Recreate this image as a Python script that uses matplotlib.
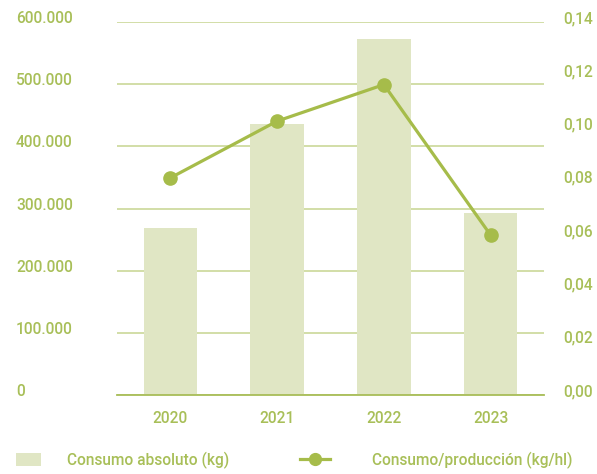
import matplotlib
matplotlib.use("Agg")
import matplotlib.pyplot as plt
import matplotlib.transforms as mtransforms
from matplotlib import font_manager as fm
from matplotlib.patches import Patch
from matplotlib.lines import Line2D

years = ["2020", "2021", "2022", "2023"]
consumo_abs = [268000, 436000, 572000, 293000]
consumo_rel = [0.0815, 0.1028, 0.1165, 0.0600]
left_ticks = [0, 100000, 200000, 300000, 400000, 500000, 600000]
right_ticks = [0.00, 0.02, 0.04, 0.06, 0.08, 0.10, 0.12, 0.14]

BAR = "#e0e6c4"
LINE = "#a6bc4a"
GRID = "#cfdba0"
TXT = "#a8bf58"
BASE = "#a8bd58"
FS = 11.2

plt.rcParams['font.family'] = ['Roboto', 'DejaVu Sans']
plt.rcParams['font.weight'] = 'medium'

med = [f.fname for f in fm.fontManager.ttflist if f.fname.endswith('Roboto-Medium.ttf')]
if med:
    fp = fm.FontProperties(fname=med[0], size=FS)
else:
    fp = fm.FontProperties(family='Roboto', weight='medium', size=FS)

fig = plt.figure(figsize=(5.97, 4.74), dpi=100)
ax = fig.add_axes([117/597, 1-395/474, (544-117)/597, (395-22)/474])
x = list(range(len(years)))
ax.bar(x, consumo_abs, width=0.5, color=BAR, zorder=2)
ax.set_xlim(-0.5, 3.5)
ax.set_ylim(0, 600000)
ax.set_yticks(left_ticks)
ax.set_yticklabels(["0" if v == 0 else f"{v:,}".replace(",", ".") for v in left_ticks])
ax.grid(axis='y', color=GRID, linewidth=1.3, zorder=1)
ax.set_axisbelow(True)
for s in ['top', 'right', 'left']:
    ax.spines[s].set_visible(False)
ax.spines['bottom'].set_color(BASE)
ax.spines['bottom'].set_linewidth(1.3)
ax.spines['bottom'].set_zorder(3)
ax.set_xticks(x)
ax.set_xticklabels(years)
ax.tick_params(axis='x', length=0, pad=11.5, colors=TXT)
ax.tick_params(axis='y', length=0, colors=TXT, pad=(117-16)*0.72)
off = mtransforms.ScaledTranslation(0, 5/100, fig.dpi_scale_trans)
for lbl in ax.get_xticklabels():
    lbl.set_fontproperties(fp)
for lbl in ax.get_yticklabels():
    lbl.set_fontproperties(fp)
    lbl.set_horizontalalignment('left')
    lbl.set_transform(lbl.get_transform() + off)

ax2 = ax.twinx()
ax2.plot(x, consumo_rel, color=LINE, linewidth=2.3, marker='o', markersize=9.5, zorder=4)
ax2.set_ylim(0, 0.14)
ax2.set_yticks(right_ticks)
ax2.set_yticklabels([f"{v:.2f}".replace(".", ",") for v in right_ticks])
for s in ['top', 'right', 'left', 'bottom']:
    ax2.spines[s].set_visible(False)
ax2.tick_params(axis='y', length=0, pad=(563-544)*0.72, colors=TXT)
for lbl in ax2.get_yticklabels():
    lbl.set_fontproperties(fp)
    lbl.set_transform(lbl.get_transform() + off)

h1 = Patch(facecolor=BAR, edgecolor='none')
h2 = Line2D([0], [0], color=LINE, linewidth=2.3, marker='o', markersize=8.5)
leg1 = fig.legend([h1], ["Consumo absoluto (kg)"], loc='center left',
                  bbox_to_anchor=(11.3/597, 1-460/474), frameon=False,
                  handlelength=1.6, handleheight=0.9, handletextpad=1.67,
                  borderpad=0.3, borderaxespad=0, prop=fp, labelcolor=TXT)
leg2 = fig.legend([h2], ["Consumo/producción (kg/hl)"], loc='center left',
                  bbox_to_anchor=(295.3/597, 1-460/474), frameon=False,
                  handlelength=1.92, handletextpad=2.7, borderpad=0.3,
                  borderaxespad=0, prop=fp, labelcolor=TXT)

fig.savefig("out.png", dpi=100)
